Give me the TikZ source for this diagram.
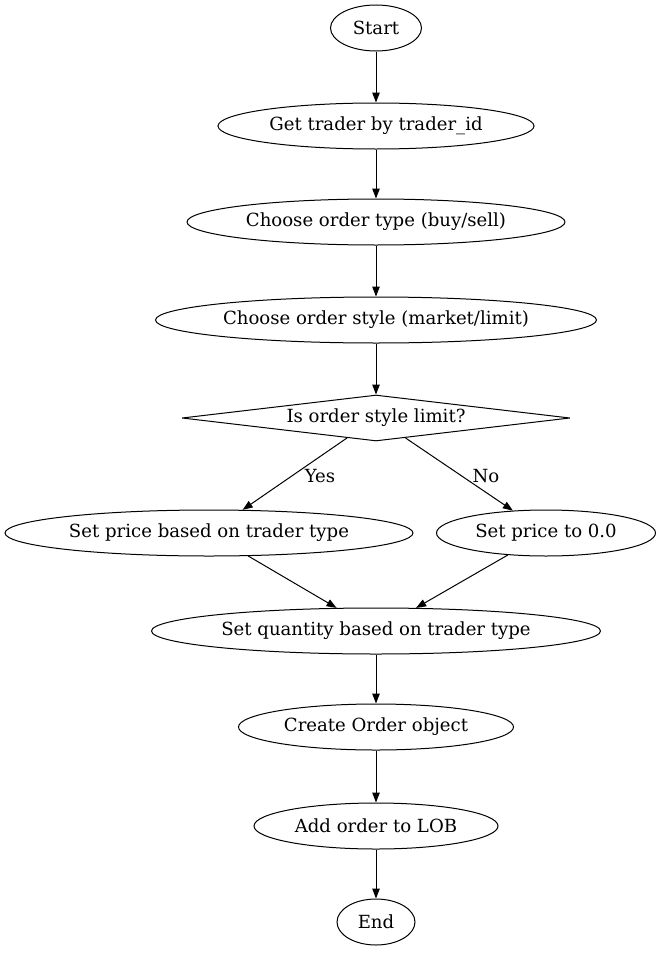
\documentclass[tikz,border=0pt]{standalone}
\usepackage{fontspec}
\setmainfont{DejaVu Serif}
\usetikzlibrary{shapes.geometric,arrows.meta}
\begin{document}
\begin{tikzpicture}[x=1pt,y=-1pt,line width=1pt,
  every node/.style={font=\fontsize{18.1}{21}\selectfont},
  ell/.style={draw,ellipse,inner sep=0pt,minimum height=46pt},
  dec/.style={draw,diamond,inner sep=0pt,aspect=8.48,minimum width=388pt,minimum height=46pt,line join=bevel},
  edge/.style={draw,-{Triangle[length=10pt,width=7.5pt]}},
  lbl/.style={inner sep=1pt}]
\useasboundingbox (0,0) rectangle (662,953);
\node[ell,minimum width=91pt] (start) at (376,28) {Start};
\node[ell,minimum width=316pt] (get) at (376,126) {Get trader by trader\_id};
\node[ell,minimum width=378pt] (type) at (376,222) {Choose order type (buy/sell)};
\node[ell,minimum width=441pt] (style) at (376,320) {Choose order style (market/limit)};
\node[dec] (dec) at (376,418) {Is order style limit?};
\node[ell,minimum width=408pt] (pricet) at (209,533) {Set price based on trader type};
\node[ell,minimum width=219pt] (price0) at (546,533) {Set price to 0.0};
\node[ell,minimum width=449pt] (qty) at (376,631) {Set quantity based on trader type};
\node[ell,minimum width=275pt] (create) at (376,727) {Create Order object};
\node[ell,minimum width=244pt] (add) at (376,826) {Add order to LOB};
\node[ell,minimum width=78pt] (end) at (376,922) {End};
\draw[edge] (start) -- (get);
\draw[edge] (get) -- (type);
\draw[edge] (type) -- (style);
\draw[edge] (style) -- (dec);
\draw[edge] (dec) -- (pricet);
\draw[edge] (dec) -- (price0);
\draw[edge] (pricet) -- (qty);
\draw[edge] (price0) -- (qty);
\draw[edge] (qty) -- (create);
\draw[edge] (create) -- (add);
\draw[edge] (add) -- (end);
\node[lbl] (yes) at (320,476) {Yes};
\node[lbl] (no) at (486,476) {No};
\end{tikzpicture}
\end{document}
